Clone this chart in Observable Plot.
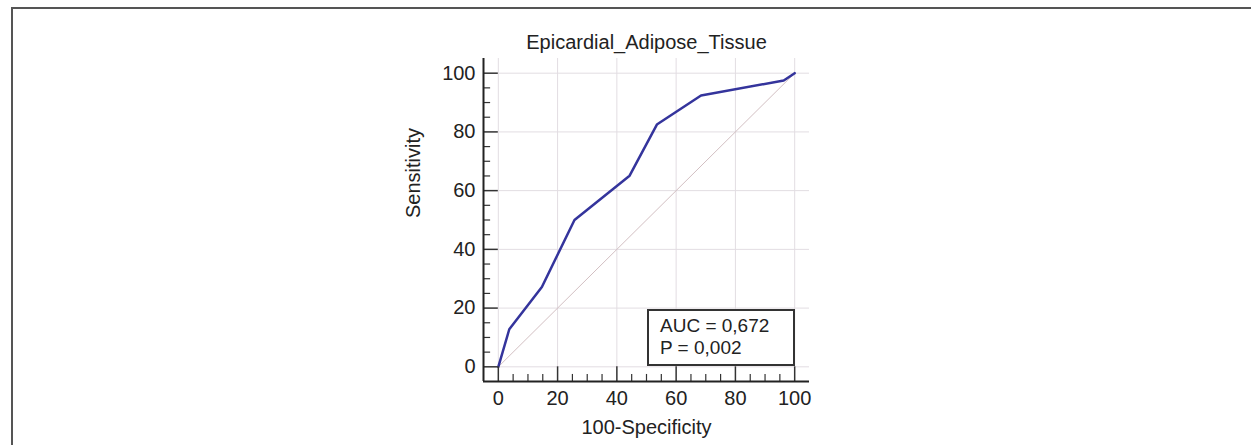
<!DOCTYPE html>
<html>
<head>
<meta charset="utf-8">
<script src="https://cdn.jsdelivr.net/npm/d3@7"></script>
<script src="https://cdn.jsdelivr.net/npm/@observablehq/plot@0.6"></script>
<style>
  html, body { margin: 0; padding: 0; background: #fff; }
  #wrap { position: relative; width: 1251px; height: 445px; overflow: hidden; }
  #border { position: absolute; left: 11px; top: 7px; width: 1300px; height: 500px;
            border-left: 2px solid #555; border-top: 2px solid #555; box-sizing: border-box; }
  #stats { position: absolute; left: 647px; top: 309px; width: 148px; height: 57px;
           box-sizing: border-box; border: 2px solid #333; background: #fff;
           font-family: "Liberation Sans", Arial, sans-serif; font-size: 19px; line-height: 22px;
           color: #222; padding: 4px 0 0 11px; }
</style>
</head>
<body>
<div id="wrap">
  <div id="border"></div>
  <div id="chart"></div>
  <div id="stats"></div>
</div>
<script>
const title = "Epicardial_Adipose_Tissue";
const xLabel = "100-Specificity";
const yLabel = "Sensitivity";
const fpr = [0, 3.7, 14.7, 25.7, 44.3, 53.5, 68.4, 96.3, 100];
const tpr = [0, 12.8, 27.2, 50.0, 65.1, 82.5, 92.4, 97.5, 100];
const majorTicks = [0, 20, 40, 60, 80, 100];
const minorTicks = [5, 10, 15, 25, 30, 35, 45, 50, 55, 65, 70, 75, 85, 90, 95];
const diagonal = [0, 100];
const statLines = ["AUC = 0,672", "P = 0,002"];

const roc = fpr.map((x, i) => ({x, y: tpr[i]}));
const font = "'Liberation Sans', Arial, sans-serif";

const plot = Plot.plot({
  width: 1251,
  height: 445,
  marginLeft: 483,
  marginRight: 442,
  marginTop: 58,
  marginBottom: 64,
  style: {fontFamily: font, fontSize: "20px", color: "#222", background: "transparent"},
  x: {domain: [-5, 105]},
  y: {domain: [-5, 105]},
  marks: [
    // grid
    Plot.ruleX(majorTicks, {x: d => d, y1: 0, y2: 105, stroke: "#e2dde2", strokeWidth: 1}),
    Plot.ruleY(majorTicks, {y: d => d, x1: 0, x2: 105, stroke: "#e2dde2", strokeWidth: 1}),
    // diagonal reference
    Plot.line(diagonal, {x: d => d, y: d => d, stroke: "#d2bfc2", strokeWidth: 1}),
    // ROC curve
    Plot.line(roc, {x: "x", y: "y", stroke: "#34349c", strokeWidth: 2.5}),
    // ticks
    Plot.ruleX(majorTicks, {x: d => d, y1: -5, y2: 0, stroke: "#333", strokeWidth: 1.5}),
    Plot.ruleX(minorTicks, {x: d => d, y1: -5, y2: -2.6, stroke: "#333", strokeWidth: 1.2}),
    Plot.ruleY(majorTicks, {y: d => d, x1: -5, x2: 0, stroke: "#333", strokeWidth: 1.5}),
    Plot.ruleY(minorTicks, {y: d => d, x1: -5, x2: -2.6, stroke: "#333", strokeWidth: 1.2}),
    // axis lines
    Plot.ruleX([-5], {y1: -5, y2: 105, stroke: "#222", strokeWidth: 2}),
    Plot.ruleY([-5], {x1: -5, x2: 105, stroke: "#222", strokeWidth: 2}),
    // tick labels
    Plot.axisX(majorTicks, {tickSize: 0, tickPadding: 9, label: null, fill: "#222", fontSize: 20}),
    Plot.axisY(majorTicks, {tickSize: 0, tickPadding: 8, label: null, fill: "#222", fontSize: 20}),
    // titles
    Plot.text([title], {frameAnchor: "top", dy: -16, lineAnchor: "middle", fontSize: 20, fill: "#222"}),
    Plot.text([xLabel], {frameAnchor: "bottom", dy: 46, lineAnchor: "middle", fontSize: 20, fill: "#222"}),
    Plot.text([yLabel], {frameAnchor: "left", dx: -70, dy: -2, rotate: -90, lineAnchor: "middle", fontSize: 20, fill: "#222"})
  ]
});
document.getElementById("chart").appendChild(plot);
document.getElementById("stats").innerHTML = statLines.map(s => `<div>${s}</div>`).join("");
</script>
</body>
</html>
